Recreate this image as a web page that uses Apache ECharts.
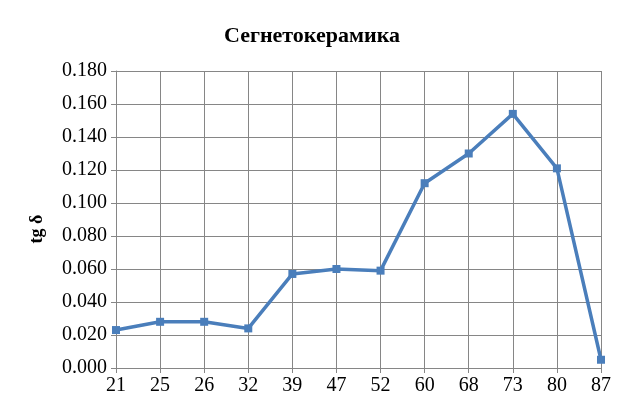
<!DOCTYPE html>
<html><head><meta charset="utf-8">
<script src="https://cdn.jsdelivr.net/npm/echarts@6/dist/echarts.min.js"></script>
<style>html,body{margin:0;padding:0;background:#fff}#c{width:624px;height:407px}</style>
</head><body><div id="c"></div>
<script>
const categories = ['21','25','26','32','39','47','52','60','68','73','80','87'];
const tgDelta = [0.023, 0.028, 0.028, 0.024, 0.057, 0.060, 0.059, 0.112, 0.130, 0.154, 0.121, 0.005];
const titleText = 'Сегнетокерамика';
const yName = 'tg δ';
const font = '"Liberation Serif", "Times New Roman", serif';
const chart = echarts.init(document.getElementById('c'));
chart.setOption({
  backgroundColor: '#fff',
  animation: false,
  title: { text: titleText, left: 'center', top: 20, textStyle: { fontFamily: font, fontSize: 22, fontWeight: 'bold', color: '#000' } },
  grid: { left: 116, right: 23, top: 71, bottom: 39, containLabel: false },
  graphic: [{
    type: 'text', x: 37, y: 229, rotation: Math.PI / 2,
    style: { text: yName, font: 'bold 18px ' + font, fill: '#000', align: 'center', verticalAlign: 'middle' }
  }],
  xAxis: {
    type: 'category', data: categories, boundaryGap: false,
    axisLine: { lineStyle: { color: '#868686', width: 1 } },
    axisTick: { show: true, inside: false, length: 5, alignWithLabel: true, lineStyle: { color: '#868686' } },
    axisLabel: { fontFamily: font, fontSize: 20, color: '#000', margin: 8 },
    splitLine: { show: true, lineStyle: { color: '#868686', width: 1 } }
  },
  yAxis: {
    type: 'value', min: 0, max: 0.18, interval: 0.02,
    axisLine: { show: true, lineStyle: { color: '#868686', width: 1 } },
    axisTick: { show: true, inside: false, length: 5, lineStyle: { color: '#868686' } },
    axisLabel: { fontFamily: font, fontSize: 20, color: '#000', margin: 9, formatter: v => v.toFixed(3) },
    splitLine: { show: true, lineStyle: { color: '#868686', width: 1 } }
  },
  series: [{
    type: 'line', data: tgDelta,
    symbol: 'rect', symbolSize: 8,
    lineStyle: { color: '#4A7EBB', width: 3.5 },
    itemStyle: { color: '#4A7EBB' }
  }]
});
</script></body></html>
